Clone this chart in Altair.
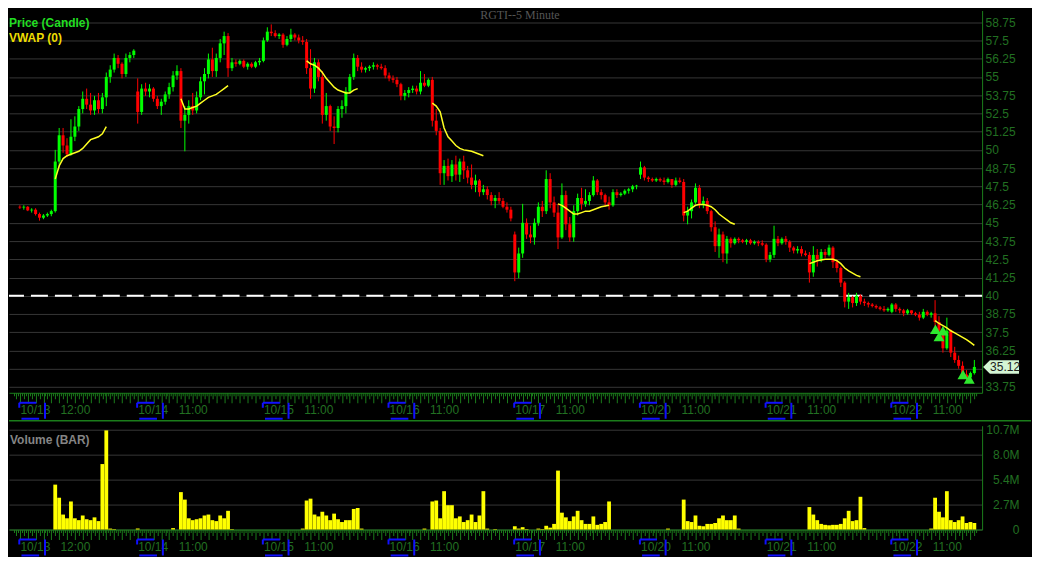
import altair as alt
import pandas as pd

# ---------------- data ----------------
day_labels = ["10/13", "10/14", "10/15", "10/16", "10/17", "10/20", "10/21", "10/22"]
hour_labels = ["12:00", "11:00", "11:00", "11:00", "11:00", "11:00", "11:00", "11:00"]
hour_slot = [16, 14, 14, 14, 14, 14, 14, 14]      # 30-minute slot of the hour label (slot 0 = 4:00)
date_label_slot = [2, 0, 0, 0, 0, 0, 0, 0]
first_candle_slot = [2, 0, 0, 0, 0, 0, 0, 0]
vwap_first_slot = 11                               # 9:30 session open

# 30-minute candles: (open, high, low, close)
candles_1013 = [
    (46.10, 46.20, 45.95, 46.05), (46.05, 46.20, 45.90, 46.10), (46.10, 46.15, 45.80, 45.85),
    (45.85, 46.00, 45.70, 45.90), (45.90, 46.00, 45.50, 45.60), (45.60, 45.70, 45.15, 45.35),
    (45.35, 45.60, 45.25, 45.50), (45.50, 45.70, 45.40, 45.60), (45.60, 45.90, 45.45, 45.80),
    (45.80, 50.00, 45.70, 49.20), (49.20, 51.50, 48.80, 51.00), (51.00, 51.50, 49.80, 50.30),
    (50.30, 50.80, 49.50, 49.70), (49.70, 52.10, 49.60, 50.90), (50.90, 52.30, 50.60, 51.60),
    (51.60, 53.00, 51.30, 52.80), (52.80, 54.00, 52.50, 53.50), (53.50, 54.20, 52.80, 53.10),
    (53.10, 53.90, 52.40, 52.70), (52.70, 53.70, 52.40, 53.40), (53.40, 53.90, 52.50, 52.80),
    (52.80, 53.90, 52.50, 53.60), (53.60, 55.30, 53.00, 55.00), (55.00, 55.80, 54.60, 55.50),
    (55.50, 56.60, 55.30, 56.30), (56.30, 56.50, 55.60, 55.90), (55.90, 56.00, 54.90, 55.20),
    (55.20, 56.60, 55.00, 56.30), (56.30, 56.70, 56.00, 56.50), (56.50, 56.90, 56.30, 56.80),
]
candles_1014 = [
    (54.00, 54.90, 51.80, 52.60), (52.60, 54.50, 52.40, 54.20), (54.20, 54.60, 53.70, 54.00),
    (54.00, 54.50, 53.60, 54.20), (54.20, 54.30, 53.30, 53.50), (53.50, 53.70, 52.80, 53.00),
    (53.00, 53.50, 52.40, 53.30), (53.30, 54.00, 53.10, 53.80), (53.80, 54.60, 53.50, 54.30),
    (54.30, 55.40, 54.00, 55.10), (55.10, 55.80, 54.80, 55.40), (55.40, 55.60, 51.50, 52.00),
    (52.00, 53.00, 49.90, 52.40), (52.40, 53.40, 51.80, 53.00), (53.00, 53.90, 52.40, 52.70),
    (52.70, 54.00, 52.50, 53.60), (53.60, 55.00, 53.40, 54.70), (54.70, 55.60, 53.80, 55.20),
    (55.20, 56.60, 54.90, 56.20), (56.20, 57.00, 55.00, 55.40), (55.40, 56.60, 55.00, 56.30),
    (56.30, 57.60, 56.00, 57.30), (57.30, 58.10, 56.50, 57.80), (57.80, 58.00, 55.00, 55.60),
    (55.60, 56.30, 55.40, 56.00), (56.00, 56.20, 55.70, 55.90), (55.90, 56.20, 55.80, 56.10),
    (56.10, 56.20, 55.60, 55.70), (55.70, 56.00, 55.50, 55.90), (55.90, 56.00, 55.60, 55.70),
    (55.70, 56.10, 55.60, 56.00), (56.00, 56.30, 55.80, 56.10),
]
candles_1015 = [
    (56.10, 57.70, 56.00, 57.50), (57.50, 58.40, 57.40, 58.10), (58.10, 58.60, 57.80, 58.00),
    (58.00, 58.20, 57.70, 57.80), (57.80, 58.00, 57.60, 57.90), (57.90, 58.00, 57.00, 57.20),
    (57.20, 57.80, 57.10, 57.60), (57.60, 58.30, 57.40, 57.90), (57.90, 58.00, 57.50, 57.70),
    (57.70, 57.90, 57.30, 57.50), (57.50, 57.80, 57.20, 57.40), (57.40, 57.60, 55.20, 55.60),
    (55.60, 56.90, 53.50, 54.20), (54.20, 56.30, 53.90, 56.00), (56.00, 56.20, 54.70, 55.00),
    (55.00, 55.40, 51.80, 52.40), (52.40, 53.90, 52.00, 53.00), (53.00, 53.10, 51.30, 51.60),
    (51.60, 52.30, 50.40, 51.50), (51.50, 53.00, 51.20, 52.80), (52.80, 53.40, 52.20, 53.00),
    (53.00, 54.30, 52.50, 54.00), (54.00, 55.20, 53.90, 55.00), (55.00, 56.60, 54.80, 56.30),
    (56.30, 56.50, 55.40, 55.70), (55.70, 56.00, 55.30, 55.50), (55.50, 55.70, 55.30, 55.60),
    (55.60, 55.80, 55.40, 55.70), (55.70, 56.00, 55.50, 55.80), (55.80, 55.90, 55.50, 55.70),
    (55.70, 55.90, 55.50, 55.60), (55.60, 55.80, 54.90, 55.10),
]
candles_1016 = [
    (55.10, 55.30, 54.70, 54.90), (54.90, 55.10, 54.60, 54.80), (54.80, 55.00, 54.30, 54.50),
    (54.50, 54.60, 53.40, 53.70), (53.70, 54.10, 53.40, 53.90), (53.90, 54.30, 53.60, 54.10),
    (54.10, 54.40, 53.90, 54.20), (54.20, 54.40, 53.80, 54.00), (54.00, 55.40, 53.80, 54.60),
    (54.60, 55.20, 54.30, 54.40), (54.40, 54.90, 54.30, 54.80), (54.80, 55.00, 51.60, 52.00),
    (52.00, 52.80, 51.00, 51.30), (51.30, 51.50, 47.60, 48.40), (48.40, 49.30, 47.60, 48.90),
    (48.90, 49.40, 47.90, 48.20), (48.20, 49.30, 47.80, 49.00), (49.00, 49.60, 47.90, 48.30),
    (48.30, 49.40, 47.80, 49.20), (49.20, 49.60, 48.00, 48.60), (48.60, 48.90, 47.70, 48.10),
    (48.10, 49.00, 47.30, 47.60), (47.60, 48.30, 47.10, 47.90), (47.90, 48.00, 46.80, 47.10),
    (47.10, 47.60, 46.90, 47.30), (47.30, 47.50, 46.60, 46.90), (46.90, 47.10, 46.20, 46.50),
    (46.50, 46.90, 46.00, 46.70), (46.70, 47.10, 46.30, 46.50), (46.50, 46.70, 46.00, 46.10),
    (46.10, 46.40, 45.70, 45.90), (45.90, 46.10, 45.10, 45.30),
]
candles_1017 = [
    (44.20, 44.40, 41.00, 41.60), (41.60, 43.30, 41.20, 42.90), (42.90, 46.30, 42.60, 45.00),
    (45.00, 45.30, 43.90, 44.20), (44.20, 44.80, 43.60, 44.00), (44.00, 45.30, 43.50, 45.00),
    (45.00, 46.40, 44.80, 46.10), (46.10, 46.50, 45.40, 45.80), (45.80, 48.60, 45.60, 48.00),
    (48.00, 48.40, 46.00, 46.40), (46.40, 46.80, 45.40, 45.70), (45.70, 46.30, 43.20, 44.00),
    (44.00, 47.70, 43.90, 46.90), (46.90, 47.20, 44.50, 44.90), (44.90, 45.40, 43.70, 44.00),
    (44.00, 46.20, 43.70, 45.80), (45.80, 47.00, 45.50, 46.70), (46.70, 47.40, 45.90, 46.30),
    (46.30, 47.30, 46.10, 46.50), (46.50, 47.10, 46.20, 46.90), (46.90, 48.20, 46.80, 47.90),
    (47.90, 48.00, 46.90, 47.10), (47.10, 47.30, 46.60, 46.90), (46.90, 47.00, 46.10, 46.40),
    (46.40, 46.80, 45.90, 46.20), (46.20, 47.30, 46.10, 47.10), (47.10, 47.30, 46.70, 46.90),
    (46.90, 47.10, 46.80, 47.00), (47.00, 47.30, 46.90, 47.20), (47.20, 47.40, 47.00, 47.30),
    (47.30, 47.60, 47.10, 47.50), (47.50, 47.60, 47.30, 47.55),
]
candles_1020 = [
    (48.30, 49.20, 48.00, 48.80), (48.80, 48.90, 47.90, 48.10), (48.10, 48.20, 47.80, 48.00),
    (48.00, 48.10, 47.80, 47.90), (47.90, 48.10, 47.80, 48.00), (48.00, 48.10, 47.80, 47.90),
    (47.90, 48.10, 47.60, 47.80), (47.80, 48.10, 47.70, 48.00), (48.00, 48.00, 47.40, 47.60),
    (47.60, 48.10, 47.50, 47.90), (47.90, 48.10, 47.70, 47.80), (47.80, 48.00, 45.10, 45.50),
    (45.50, 46.10, 44.90, 45.80), (45.80, 46.60, 45.30, 46.40), (46.40, 47.70, 46.30, 47.40),
    (47.40, 47.60, 46.00, 46.30), (46.30, 46.80, 46.00, 46.50), (46.50, 46.70, 45.60, 45.80),
    (45.80, 45.90, 44.40, 44.70), (44.70, 45.10, 43.00, 43.40), (43.40, 44.60, 42.60, 44.20),
    (44.20, 44.40, 42.30, 42.90), (42.90, 44.10, 42.20, 43.90), (43.90, 44.00, 43.30, 43.60),
    (43.60, 44.00, 43.50, 43.90), (43.90, 44.00, 43.60, 43.80), (43.80, 43.90, 43.60, 43.70),
    (43.70, 43.90, 43.50, 43.80), (43.80, 43.90, 43.50, 43.60), (43.60, 43.80, 43.50, 43.70),
    (43.70, 43.80, 43.40, 43.60), (43.60, 43.80, 43.40, 43.50),
]
candles_1021 = [
    (43.50, 43.60, 42.30, 42.50), (42.50, 43.00, 42.30, 42.80), (42.80, 44.80, 42.60, 43.90),
    (43.90, 44.10, 43.40, 43.60), (43.60, 44.00, 43.50, 43.90), (43.90, 44.10, 43.50, 43.70),
    (43.70, 43.80, 43.00, 43.30), (43.30, 43.40, 42.90, 43.10), (43.10, 43.40, 42.90, 43.20),
    (43.20, 43.40, 42.70, 42.90), (42.90, 43.10, 42.70, 42.80), (42.80, 43.00, 40.90, 41.60),
    (41.60, 43.40, 41.30, 42.80), (42.80, 43.20, 42.00, 42.50), (42.50, 43.20, 42.30, 43.00),
    (43.00, 43.20, 42.60, 42.80), (42.80, 43.50, 42.70, 43.30), (43.30, 43.40, 41.90, 42.30),
    (42.30, 42.50, 41.60, 41.90), (41.90, 42.00, 40.60, 40.90), (40.90, 41.00, 39.20, 39.60),
    (39.60, 40.20, 39.10, 39.90), (39.90, 40.00, 39.20, 39.50), (39.50, 40.20, 39.30, 40.00),
    (40.00, 40.10, 39.40, 39.60), (39.60, 39.80, 39.30, 39.50), (39.50, 39.60, 39.20, 39.40),
    (39.40, 39.50, 39.20, 39.30), (39.30, 39.40, 39.10, 39.20), (39.20, 39.30, 39.00, 39.10),
    (39.10, 39.30, 38.90, 39.00), (39.00, 39.20, 38.90, 39.10),
]
candles_1022 = [
    (38.90, 39.50, 38.80, 39.40), (39.40, 39.50, 38.90, 39.10), (39.10, 39.20, 38.80, 39.00),
    (39.00, 39.10, 38.60, 38.80), (38.80, 39.10, 38.70, 39.00), (39.00, 39.00, 38.70, 38.80),
    (38.80, 38.90, 38.60, 38.70), (38.70, 38.90, 38.30, 38.50), (38.50, 39.10, 38.40, 38.90),
    (38.90, 39.00, 38.60, 38.70), (38.70, 38.90, 38.50, 38.80), (38.80, 39.70, 37.90, 38.20),
    (38.20, 38.60, 37.30, 37.60), (37.60, 37.90, 36.10, 36.40), (36.40, 38.50, 36.30, 37.60),
    (37.60, 37.70, 35.80, 36.10), (36.10, 36.50, 35.40, 35.60), (35.60, 35.90, 35.00, 35.20),
    (35.20, 35.50, 34.30, 34.60), (34.60, 34.90, 34.10, 34.40), (34.40, 34.80, 34.10, 34.70),
    (34.70, 35.60, 34.60, 35.12),
]

# VWAP, one value per 30-minute slot from 9:30
vwap_1013 = [48.0, 48.9, 49.4, 49.6, 49.7, 49.8, 49.9, 50.1, 50.4, 50.7, 50.8, 50.9, 51.1, 51.6]
vwap_1014 = [53.5, 52.8, 52.8, 52.9, 53.0, 53.2, 53.4, 53.6, 53.7, 53.8, 54.0, 54.2, 54.4]
vwap_1015 = [56.1, 55.9, 55.8, 55.6, 55.3, 54.9, 54.6, 54.3, 54.1, 54.0, 53.9, 53.9, 54.1, 54.2]
vwap_1016 = [53.2, 53.0, 52.6, 51.5, 50.9, 50.6, 50.3, 50.1, 50.0, 49.95, 49.9, 49.8, 49.7, 49.6]
vwap_1017 = [46.3, 46.2, 46.0, 45.8, 45.6, 45.6, 45.7, 45.8, 45.8, 45.9, 46.0, 46.1, 46.15, 46.2]
vwap_1020 = [45.7, 45.8, 46.0, 46.2, 46.25, 46.25, 46.2, 46.1, 45.9, 45.6, 45.4, 45.2, 45.0, 44.9]
vwap_1021 = [42.2, 42.3, 42.4, 42.45, 42.5, 42.5, 42.5, 42.4, 42.2, 41.9, 41.7, 41.55, 41.4, 41.3]
vwap_1022 = [38.3, 38.1, 37.95, 37.8, 37.6, 37.45, 37.3, 37.15, 37.0, 36.8, 36.6]

# volume in millions, one value per 30-minute slot from 4:00 (0 = no bar)
volume_1013 = [0, 0, 0, 0, 0, 0, 0, 0, 0, 0, 0, 4.8, 3.4, 1.6, 1.2, 3.0, 1.2, 1.0, 1.5, 1.1, 1.0,
               1.3, 0.9, 7.0, 10.6, 0.1, 0.05, 0, 0, 0, 0, 0]
volume_1014 = [0.1, 0, 0, 0, 0, 0, 0, 0, 0, 0.15, 0, 4.0, 3.2, 1.2, 1.0, 1.1, 1.2, 1.5, 1.6, 1.0,
               0.9, 1.5, 1.2, 2.0, 0.05, 0, 0, 0, 0, 0, 0, 0]
volume_1015 = [0, 0, 0, 0, 0, 0, 0, 0, 0, 0, 0.1, 3.1, 3.3, 1.6, 1.4, 1.9, 1.5, 1.0, 1.7, 1.1, 0.8,
               1.0, 1.0, 2.2, 2.3, 0.1, 0, 0, 0, 0, 0, 0]
volume_1016 = [0, 0, 0, 0, 0, 0, 0, 0, 0, 0.1, 0, 3.0, 3.1, 1.2, 4.1, 2.6, 2.6, 1.2, 1.4, 0.8, 1.0,
               1.6, 0.8, 1.5, 4.1, 0.1, 0, 0.05, 0, 0, 0, 0]
volume_1017 = [0.35, 0.1, 0.25, 0.05, 0, 0, 0.1, 0.05, 0.4, 0.2, 0.6, 6.3, 1.8, 1.3, 0.9, 1.4, 2.0,
               1.0, 0.6, 0.6, 1.4, 0.5, 0.6, 0.8, 3.0, 0, 0, 0, 0, 0, 0, 0]
volume_1020 = [0, 0, 0, 0, 0, 0, 0, 0.1, 0, 0, 0, 3.2, 0.9, 0.8, 1.5, 0.4, 0.35, 0.6, 0.6, 0.7, 1.2,
               1.5, 1.0, 1.0, 1.5, 0.1, 0, 0, 0, 0, 0, 0]
volume_1021 = [0, 0, 0, 0, 0, 0, 0, 0, 0, 0, 0, 2.4, 1.6, 1.0, 0.6, 0.5, 0.45, 0.5, 0.5, 0.6, 1.2,
               2.0, 0.9, 1.0, 3.5, 0.15, 0, 0, 0, 0, 0, 0]
volume_1022 = [0, 0, 0, 0, 0, 0, 0, 0, 0, 0, 0.1, 3.4, 1.9, 1.3, 4.1, 1.0, 0.8, 1.0, 1.4, 0.7, 0.8, 0.7]

signal_slot = [235.1, 236.0, 237.0, 242.1, 243.7]
signal_price = [37.7, 37.2, 37.6, 34.6, 34.3]
last_price = 35.12
alert_level = 40.0
price_ticks = [33.75, 35, 36.25, 37.5, 38.75, 40, 41.25, 42.5, 43.75, 45, 46.25, 47.5, 48.75,
               50, 51.25, 52.5, 53.75, 55, 56.25, 57.5, 58.75]
volume_ticks = [0, 2.675, 5.35, 8.025, 10.7]

# ---------------- tables ----------------
SLOTS = 32
UP, DOWN = "#00ff00", "#ff0000"
all_candles = [candles_1013, candles_1014, candles_1015, candles_1016,
               candles_1017, candles_1020, candles_1021, candles_1022]
all_vwap = [vwap_1013, vwap_1014, vwap_1015, vwap_1016, vwap_1017, vwap_1020, vwap_1021, vwap_1022]
all_volume = [volume_1013, volume_1014, volume_1015, volume_1016,
              volume_1017, volume_1020, volume_1021, volume_1022]

crow, vrow, qrow = [], [], []
for d in range(8):
    for k, (o, h, l, c) in enumerate(all_candles[d]):
        crow.append({"g": SLOTS * d + first_candle_slot[d] + k, "o": o, "h": h, "l": l, "c": c,
                     "col": UP if c >= o else DOWN})
    for k, v in enumerate(all_vwap[d]):
        vrow.append({"g": SLOTS * d + vwap_first_slot + k, "v": v, "day": day_labels[d]})
    for k, q in enumerate(all_volume[d]):
        if q > 0:
            qrow.append({"g": SLOTS * d + k, "q": q})
cdf = pd.DataFrame(crow)
vdf = pd.DataFrame(vrow)
qdf = pd.DataFrame(qrow)
bdf = pd.DataFrame({"g0": [SLOTS * d + date_label_slot[d] for d in range(8)]})
sdf = pd.DataFrame({"g": signal_slot, "p": signal_price})

# ---------------- styling ----------------
W, H1, H2 = 975, 383, 104
AX_GREEN = "#1b7d1b"
LBL_GREEN = "#227022"
GRID = "#363636"
BLUE = "#1010ff"

XS = alt.Scale(domain=[0.5, 245.7], nice=False, zero=False)
PS = alt.Scale(domain=[33.35, 59.55], nice=False, zero=False)
VS = alt.Scale(domain=[0, 11.1], nice=False, zero=False)

tick_vals = [i / 2 for i in range(1, 492)]
lab_pos = {}
for d in range(8):
    lab_pos[SLOTS * d + date_label_slot[d]] = day_labels[d]
    lab_pos[SLOTS * d + hour_slot[d]] = hour_labels[d]
label_expr = " : ".join(f"datum.value == {g} ? '{t}'" for g, t in lab_pos.items()) + " : ''"
left_test = " || ".join(f"datum.value == {SLOTS * d + date_label_slot[d]}" for d in range(8))

x_axis = alt.Axis(values=tick_vals, labelExpr=label_expr, labelOverlap=False, labelFlush=False,
                  grid=False, domainColor=AX_GREEN, domainWidth=1, tickColor=AX_GREEN, tickWidth=1,
                  tickSize={"expr": "datum.value % 2 == 0 ? 10 : (datum.value % 1 == 0 ? 6 : 3)"},
                  labelAlign={"condition": {"test": left_test, "value": "left"}, "value": "center"},
                  labelColor=LBL_GREEN, labelFontSize=12, labelPadding=2)

p_axis = alt.Axis(orient="right", values=price_ticks, grid=True, gridColor=GRID, gridWidth=1,
                  ticks=False, domainColor=AX_GREEN, domainWidth=1, labelColor=LBL_GREEN,
                  labelFontSize=12, labelPadding=3, labelOverlap=False, labelFlush=False,
                  labelExpr="datum.value == 35 ? '' : format(datum.value, '.2~f')")

v_axis = alt.Axis(orient="right", values=volume_ticks, grid=True, gridColor=GRID, gridWidth=1,
                  ticks=False, domainColor=AX_GREEN, domainWidth=1, labelColor=LBL_GREEN,
                  labelFontSize=12, labelAlign="right", labelPadding=37, labelOverlap=False,
                  labelFlush=False,
                  labelExpr="datum.value < 1 ? '0' : datum.value < 3 ? '2.7M' : datum.value < 6 ? '5.4M' : datum.value < 9 ? '8.0M' : '10.7M'")


def X(field):
    return alt.X(f"{field}:Q", scale=XS, axis=x_axis, title=None)


def PY(field):
    return alt.Y(f"{field}:Q", scale=PS, axis=p_axis, title=None)


def brackets(h):
    base = alt.Chart(bdf).transform_calculate(
        a="datum.g0 - 0.15", b="datum.g0 + 4.2", r="datum.g0 + 6.4",
        u1="datum.g0 + 0.4", u2="datum.g0 + 4.9")
    top = base.mark_rule(color=BLUE, strokeWidth=2).encode(
        x=X("a"), x2="b:Q", y=alt.value(h + 10))
    left = base.mark_rule(color=BLUE, strokeWidth=2).encode(
        x=X("a"), y=alt.value(h + 10), y2=alt.value(h + 15))
    right = base.mark_rule(color=BLUE, strokeWidth=2).encode(
        x=X("r"), y=alt.value(h + 10), y2=alt.value(h + 26))
    under = base.mark_rule(color=BLUE, strokeWidth=2).encode(
        x=X("u1"), x2="u2:Q", y=alt.value(h + 26))
    return [top, left, right, under]


one = pd.DataFrame({"k": [0]})

# ---------------- price panel ----------------
alert = alt.Chart(pd.DataFrame({"level": [alert_level]})).mark_rule(
    color="#ffffff", strokeWidth=2, strokeDash=[17, 7]).encode(y=PY("level"))

wicks = alt.Chart(cdf).mark_rule(strokeWidth=1).encode(
    x=X("g"), y=PY("l"), y2="h:Q", color=alt.Color("col:N", scale=None))
bodies = alt.Chart(cdf).mark_bar(size=3).encode(
    x=X("g"), y=PY("o"), y2="c:Q", color=alt.Color("col:N", scale=None))
vwap = alt.Chart(vdf).mark_line(color="#ffff22", strokeWidth=1.5).encode(
    x=X("g"), y=PY("v"), detail="day:N")
signals = alt.Chart(sdf).mark_point(shape="triangle-up", filled=True, size=120,
                                    color="#2ee82e", opacity=1).encode(x=X("g"), y=PY("p"))

lp = pd.DataFrame({"p": [last_price], "t": [f"{last_price:.2f}"]})
lp_box = alt.Chart(lp).mark_point(
    shape="M -1 0 L -0.62 -0.38 L 1 -0.38 L 1 0.38 L -0.62 0.38 Z",
    filled=True, size=1296, color="#d4f5d4", opacity=1).encode(
    x=alt.value(W + 19), y=PY("p"))
lp_text = alt.Chart(lp).mark_text(font="Liberation Sans", fontSize=12, color="#202020",
                                  align="center", baseline="middle").encode(
    x=alt.value(W + 23), y=PY("p"), text="t:N")

title_t = alt.Chart(pd.DataFrame({"t": ["RGTI--5 Minute"]})).mark_text(
    font="Liberation Serif", fontSize=12, color="#555555", align="center",
    baseline="alphabetic").encode(x=alt.value(W * 0.525), y=alt.value(8), text="t:N")
leg1 = alt.Chart(pd.DataFrame({"t": ["Price (Candle)"]})).mark_text(
    font="Liberation Sans", fontSize=12, fontWeight="bold", color="#22dd22", align="left",
    baseline="middle").encode(x=alt.value(0), y=alt.value(13), text="t:N")
leg2 = alt.Chart(pd.DataFrame({"t": ["VWAP (0)"]})).mark_text(
    font="Liberation Sans", fontSize=12, fontWeight="bold", color="#eedd00", align="left",
    baseline="middle").encode(x=alt.value(0), y=alt.value(28), text="t:N")

price = alt.layer(alert, wicks, bodies, vwap, signals, lp_box, lp_text,
                  title_t, leg1, leg2, *brackets(H1)).properties(width=W, height=H1)

# ---------------- volume panel ----------------
vol_bars = alt.Chart(qdf).mark_bar(size=3.8, color="#ffff00").encode(
    x=X("g"), y=alt.Y("q:Q", scale=VS, axis=v_axis, title=None))
sep = alt.Chart(one).mark_rule(color=AX_GREEN, strokeWidth=1.5).encode(
    x=alt.value(0), x2=alt.value(W + 49), y=alt.value(-5))
vol_lbl = alt.Chart(pd.DataFrame({"t": ["Volume (BAR)"]})).mark_text(
    font="Liberation Sans", fontSize=12, fontWeight="bold", color="#858585", align="left",
    baseline="middle").encode(x=alt.value(1), y=alt.value(14), text="t:N")

volume = alt.layer(vol_bars, sep, vol_lbl, *brackets(H2)).properties(width=W, height=H2)

chart = alt.vconcat(price, volume, spacing=0).properties(
    padding={"left": 0, "top": 0, "right": 0, "bottom": 0}
).configure(background="#000000").configure_view(strokeWidth=0).configure_axis(
    labelFont="Liberation Sans")

chart.save("out.html", embed_options={"renderer": "svg", "actions": False})
